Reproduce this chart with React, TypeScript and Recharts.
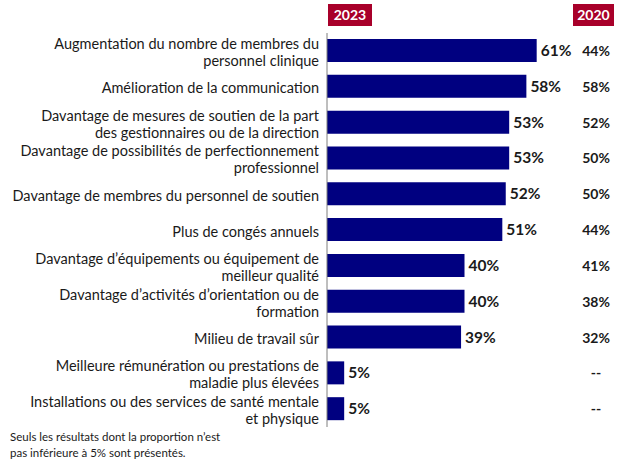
import { BarChart, Bar, XAxis, YAxis, LabelList } from "recharts";

const categories: string[][] = [
  ["Augmentation du nombre de membres du", "personnel clinique"],
  ["Amélioration de la communication"],
  ["Davantage de mesures de soutien de la part", "des gestionnaires ou de la direction"],
  ["Davantage de possibilités de perfectionnement", "professionnel"],
  ["Davantage de membres du personnel de soutien"],
  ["Plus de congés annuels"],
  ["Davantage d’équipements ou équipement de", "meilleur qualité"],
  ["Davantage d’activités d’orientation ou de", "formation"],
  ["Milieu de travail sûr"],
  ["Meilleure rémunération ou prestations de", "maladie plus élevées"],
  ["Installations ou des services de santé mentale", "et physique"],
];
const values2023 = [61, 58, 53, 53, 52, 51, 40, 40, 39, 5, 5];
const values2020: (number | null)[] = [44, 58, 52, 50, 50, 44, 41, 38, 32, null, null];
const yearLabels = ["2023", "2020"];
const footnote = [
  "Seuls les résultats dont la proportion n’est",
  "pas inférieure à 5% sont présentés.",
];

const data = categories.map((lines, i) => ({
  name: String(i),
  lines,
  v2023: values2023[i],
  v2020: values2020[i],
}));

const FONT = "Lato, 'Open Sans', sans-serif";
const NAVY = "#000080";
const BADGE = "#A8002A";
const COL_2020_X = 596;

const CategoryTick = ({ x, y, payload }: any) => {
  const lines = categories[Number(payload.value)];
  const start = -((lines.length - 1) * 17) / 2 + 1;
  return (
    <text
      x={x}
      y={y}
      textAnchor="end"
      fontSize={14.5}
      fontFamily={FONT}
      fill="#1a1a1a"
    >
      {lines.map((l, i) => (
        <tspan key={i} x={x} dy={i === 0 ? start : 17} dominantBaseline="central">
          {l}
        </tspan>
      ))}
    </text>
  );
};

const PrevLabel = ({ y, height, value }: any) => (
  <text
    x={COL_2020_X}
    y={y + height / 2}
    textAnchor="middle"
    dominantBaseline="central"
    fontSize={14}
    fontWeight={700}
    fontFamily={FONT}
    fill="#1a1a1a"
  >
    {value == null ? "--" : `${value}%`}
  </text>
);

const Badge = ({ left, width, text }: { left: number; width: number; text: string }) => (
  <div
    style={{
      position: "absolute",
      left,
      top: 4,
      width,
      height: 22,
      background: BADGE,
      color: "#fff",
      fontFamily: FONT,
      fontWeight: 700,
      fontSize: 14,
      lineHeight: "22px",
      textAlign: "center",
    }}
  >
    {text}
  </div>
);

export default function App() {
  return (
    <div style={{ position: "absolute", left: 0, top: 0, width: 624, height: 468, background: "#fff" }}>
      <BarChart
        width={624}
        height={468}
        data={data}
        layout="vertical"
        margin={{ top: 33, right: 22, left: 0, bottom: 41 }}
        barCategoryGap={6}
      >
        <XAxis type="number" domain={[0, 80]} hide />
        <YAxis
          type="category"
          dataKey="name"
          width={327}
          tick={<CategoryTick />}
          tickLine={false}
          axisLine={{ stroke: "#7f7f7f" }}
          interval={0}
        />
        <Bar dataKey="v2023" fill={NAVY} barSize={23} isAnimationActive={false}>
          <LabelList
            dataKey="v2023"
            position="right"
            offset={4}
            formatter={(v: any) => `${v}%`}
            style={{ fontFamily: FONT, fontSize: 15.5, fontWeight: 700, fill: "#1a1a1a" }}
          />
          <LabelList dataKey="v2020" content={<PrevLabel />} />
        </Bar>
      </BarChart>
      <Badge left={328} width={44} text={yearLabels[0]} />
      <Badge left={573} width={41} text={yearLabels[1]} />
      <div
        style={{
          position: "absolute",
          left: 10,
          top: 429,
          fontFamily: FONT,
          fontSize: 11.5,
          lineHeight: "16px",
          color: "#1a1a1a",
        }}
      >
        {footnote.map((l, i) => (
          <div key={i}>{l}</div>
        ))}
      </div>
    </div>
  );
}
